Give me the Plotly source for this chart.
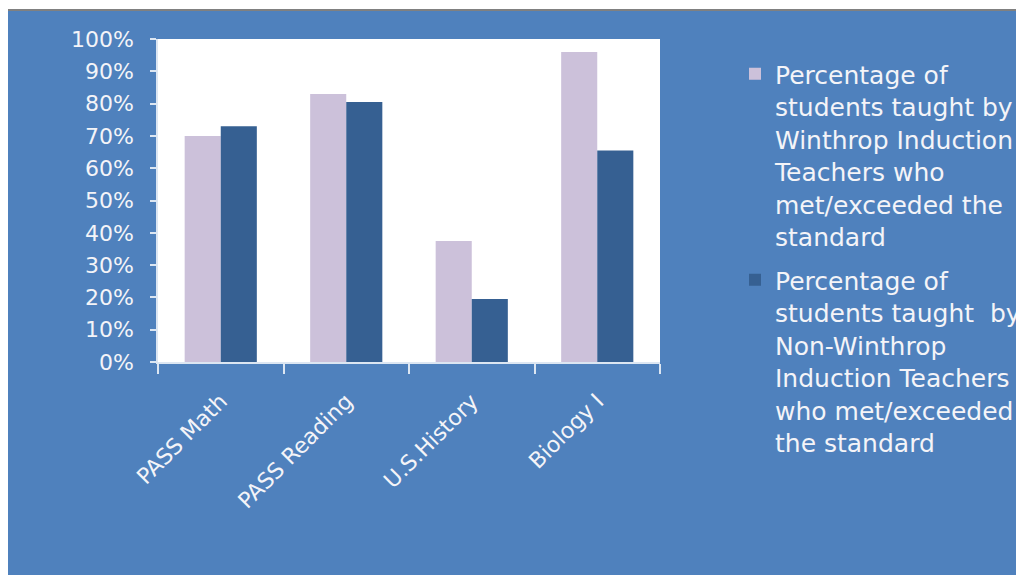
import plotly.graph_objects as go

categories = ["PASS Math", "PASS Reading", "U.S.History", "Biology I"]
winthrop = [0.70, 0.83, 0.375, 0.96]
non_winthrop = [0.73, 0.805, 0.195, 0.655]
series_names = [
    "Percentage of<br>students taught by<br>Winthrop Induction<br>Teachers who<br>met/exceeded the<br>standard",
    "Percentage of<br>students taught  by<br>Non-Winthrop<br>Induction Teachers<br>who met/exceeded<br>the standard",
]
y_ticks = [i / 10 for i in range(11)]

BLUE = "#4F81BD"
LIGHT = "#CCC1DA"
DARK = "#366092"
TXT = "#F4F4F8"
AX = "#DCE6F2"
FONT = "DejaVu Sans"

fig = go.Figure()
fig.add_trace(go.Bar(x=categories, y=winthrop, name=series_names[0], legendgroup="a",
                     marker=dict(color=LIGHT, line=dict(width=0))))
fig.add_trace(go.Bar(x=categories, y=non_winthrop, name=series_names[1], legendgroup="b",
                     marker=dict(color=DARK, line=dict(width=0))))

FW, FH = 1016, 567
L, R, T, B = 150, 364, 31, 213
W, H = FW - L - R, FH - T - B

def px_x(p):
    return (p - L) / W

def px_y(p):
    return (FH - B - p) / H

shapes = [
    dict(type="rect", xref="paper", yref="paper", x0=px_x(-5), x1=px_x(1030),
         y0=px_y(1), y1=px_y(-5), fillcolor="white", line=dict(width=0), layer="above"),
    dict(type="rect", xref="paper", yref="paper", x0=px_x(-5), x1=px_x(1030),
         y0=px_y(3), y1=px_y(1), fillcolor="#808080", line=dict(width=0), layer="above"),
    dict(type="rect", xref="paper", yref="paper", x0=px_x(1013), x1=px_x(1030),
         y0=px_y(580), y1=px_y(3), fillcolor="white", line=dict(width=0), layer="above"),
]

fig.update_layout(
    width=FW, height=FH,
    margin=dict(l=L, r=R, t=T, b=B, pad=0, autoexpand=False),
    paper_bgcolor=BLUE, plot_bgcolor="white",
    barmode="group", bargap=0.425, bargroupgap=0,
    font=dict(family=FONT, color=TXT, size=21),
    shapes=shapes,
    legend=dict(x=px_x(727), y=px_y(43), xanchor="left", yanchor="top",
                bgcolor="rgba(0,0,0,0)", font=dict(family=FONT, size=25, color=TXT),
                valign="top", tracegroupgap=8, itemwidth=30, maxheight=520),
    xaxis=dict(showgrid=False, showline=True, linecolor=AX, linewidth=1.5,
               ticks="outside", tickson="boundaries", ticklen=10, tickcolor=AX,
               tickwidth=1.5, tickangle=-45, ticklabelstandoff=16,
               tickfont=dict(size=22, color=TXT, family=FONT)),
    yaxis=dict(range=[0, 1], tickvals=y_ticks, tickformat=".0%", showgrid=False,
               showline=True, linecolor=AX, linewidth=1.5, ticks="outside", ticklen=6,
               tickcolor=AX, tickwidth=1.5, zeroline=False,
               tickfont=dict(size=22, color=TXT, family=FONT), ticklabelstandoff=12),
)

fig.write_html("out.html")
